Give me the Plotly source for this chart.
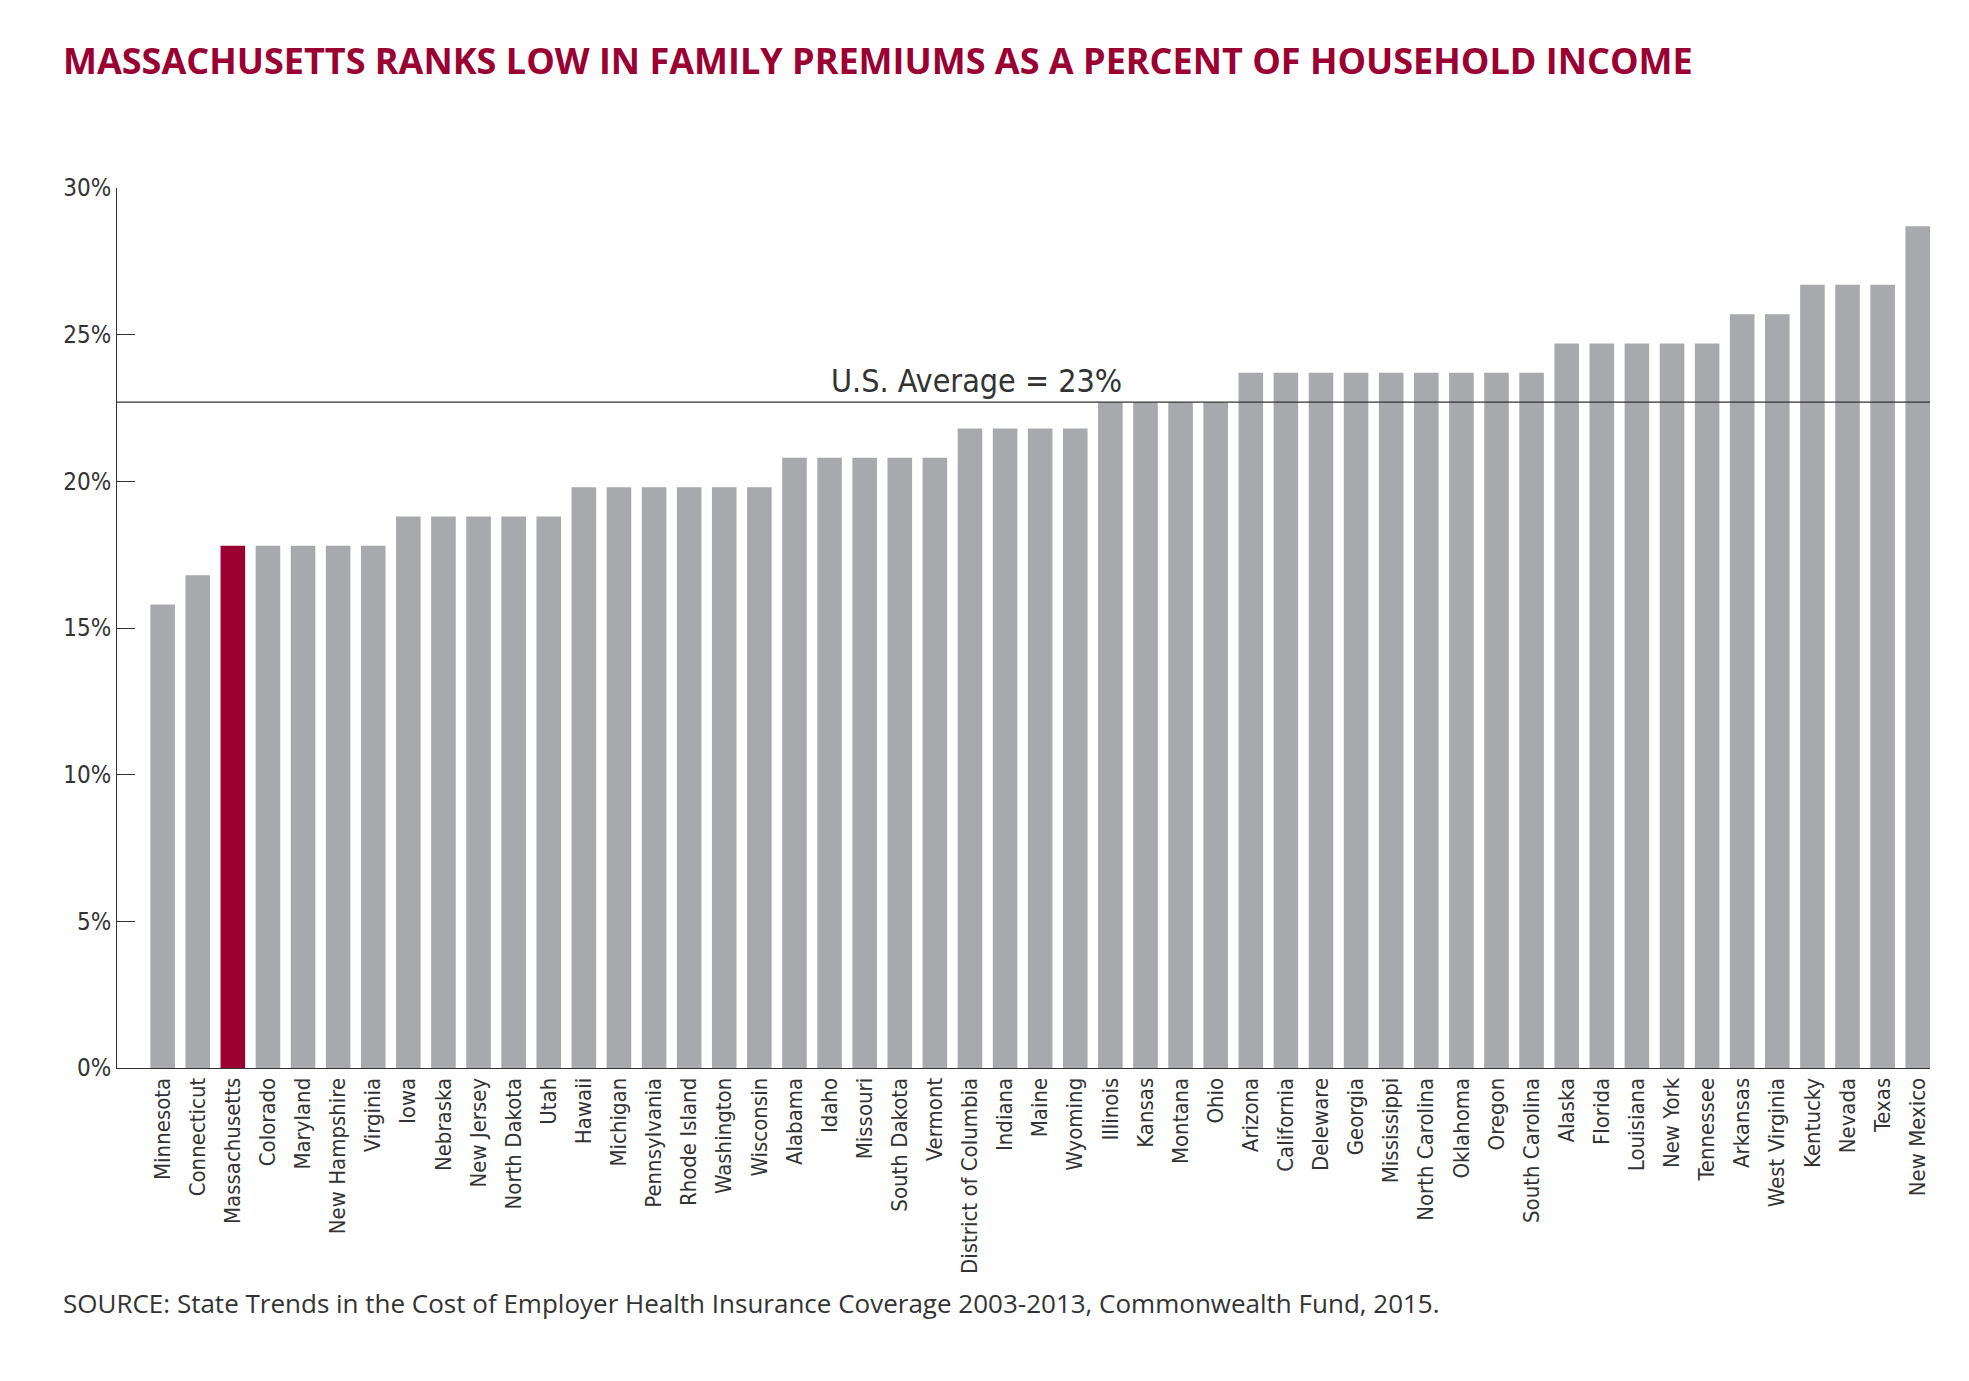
import plotly.graph_objects as go

states = ["Minnesota", "Connecticut", "Massachusetts", "Colorado", "Maryland", "New Hampshire",
          "Virginia", "Iowa", "Nebraska", "New Jersey", "North Dakota", "Utah", "Hawaii",
          "Michigan", "Pennsylvania", "Rhode Island", "Washington", "Wisconsin", "Alabama",
          "Idaho", "Missouri", "South Dakota", "Vermont", "District of Columbia", "Indiana",
          "Maine", "Wyoming", "Illinois", "Kansas", "Montana", "Ohio", "Arizona", "California",
          "Deleware", "Georgia", "Mississippi", "North Carolina", "Oklahoma", "Oregon",
          "South Carolina", "Alaska", "Florida", "Louisiana", "New York", "Tennessee",
          "Arkansas", "West Virginia", "Kentucky", "Nevada", "Texas", "New Mexico"]
values = [15.8, 16.8, 17.8, 17.8, 17.8, 17.8, 17.8, 18.8, 18.8, 18.8, 18.8, 18.8, 19.8,
          19.8, 19.8, 19.8, 19.8, 19.8, 20.8, 20.8, 20.8, 20.8, 20.8, 21.8, 21.8, 21.8, 21.8,
          22.7, 22.7, 22.7, 22.7, 23.7, 23.7, 23.7, 23.7, 23.7, 23.7, 23.7, 23.7, 23.7,
          24.7, 24.7, 24.7, 24.7, 24.7, 25.7, 25.7, 26.7, 26.7, 26.7, 28.7]
us_average = 22.7
highlight = "Massachusetts"

font_narrow = "Liberation Sans Narrow, DejaVu Sans Condensed, sans-serif"
colors = ["#9b0033" if s == highlight else "#a7a9ac" for s in states]

fig = go.Figure(go.Bar(x=states, y=values, marker_color=colors, marker_line_width=0))

fig.add_shape(type="line", xref="paper", x0=0, x1=1, y0=us_average, y1=us_average,
              line=dict(color="#333333", width=1.3))
fig.add_annotation(x=23.2, y=us_average, text="U.S. Average = 23%", showarrow=False,
                   yanchor="bottom", yshift=0,
                   font=dict(family=font_narrow, size=32, color="#333333"))

fig.add_annotation(xref="paper", yref="paper", x=-0.031, y=1.175, xanchor="left",
                   text="<b>MASSACHUSETTS RANKS LOW IN FAMILY PREMIUMS AS A PERCENT OF HOUSEHOLD INCOME</b>",
                   showarrow=False, font=dict(family="Open Sans, sans-serif", size=36, color="#9b0033"))
fig.add_annotation(xref="paper", yref="paper", x=-0.031, y=-0.29, xanchor="left",
                   text="SOURCE: State Trends in the Cost of Employer Health Insurance Coverage 2003-2013, Commonwealth Fund, 2015.",
                   showarrow=False, font=dict(family="Open Sans, sans-serif", size=26, color="#333333"))

fig.update_layout(
    width=1969, height=1381,
    margin=dict(l=109, r=47, t=180, b=321),
    plot_bgcolor="white", paper_bgcolor="white",
    bargap=0.3, showlegend=False,
    xaxis=dict(range=[-1.3, 50.35], tickangle=-90, showline=True, linecolor="#333333",
               ticks="", tickfont=dict(family=font_narrow, size=22, color="#333333")),
    yaxis=dict(range=[0, 30], tickvals=[0, 5, 10, 15, 20, 25, 30],
               ticktext=["0%", "5%", "10%", "15%", "20%", "25%", "30%"],
               showgrid=False, zeroline=False, showline=True, linecolor="#333333",
               ticks="inside", ticklen=18, tickcolor="#333333",
               tickfont=dict(family=font_narrow, size=24, color="#333333")),
)

fig.write_html("out.html")
